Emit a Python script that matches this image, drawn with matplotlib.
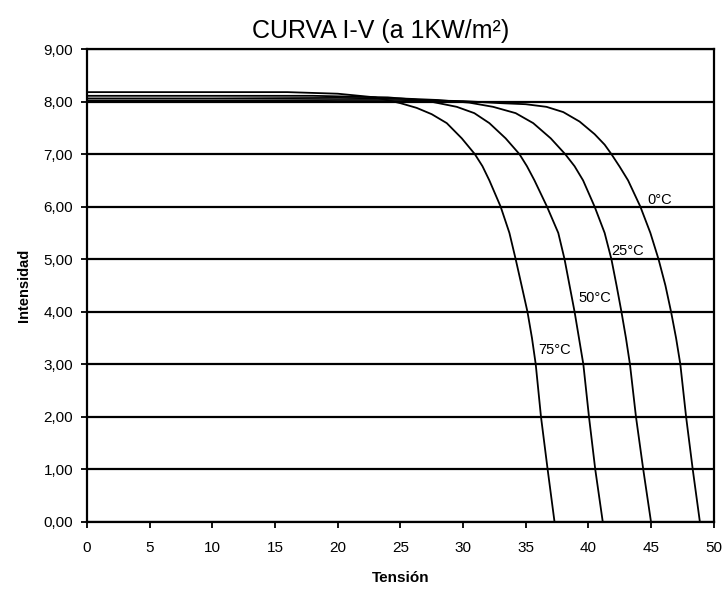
import matplotlib
matplotlib.use("Agg")
import matplotlib.pyplot as plt
from matplotlib.ticker import FuncFormatter

plt.rcParams['font.family'] = ['Liberation Sans', 'DejaVu Sans']

# curve points (tension V, intensidad A)
v_0 = [0, 10, 20, 25, 30, 33, 35.0, 36.66, 38.0, 39.3, 40.5, 41.3, 41.84, 42.5, 43.17, 44.15, 44.95, 45.6, 46.15, 46.6, 47.0, 47.34, 47.8, 48.33, 48.9]
i_0 = [8.02, 8.02, 8.03, 8.03, 8.01, 7.97, 7.95, 7.9, 7.8, 7.62, 7.38, 7.18, 7.0, 6.76, 6.5, 6.0, 5.5, 5.0, 4.5, 4.0, 3.5, 3.0, 2.0, 1.0, 0.0]

v_25 = [0, 10, 20, 25, 28, 30.5, 32.4, 34.2, 35.6, 37.0, 38.15, 38.9, 39.58, 40.5, 41.3, 41.84, 42.25, 42.64, 43.0, 43.32, 43.8, 44.38, 45.0]
i_25 = [8.06, 8.06, 8.07, 8.06, 8.03, 7.98, 7.9, 7.78, 7.59, 7.3, 7.0, 6.77, 6.5, 6.0, 5.5, 5.0, 4.5, 4.0, 3.5, 3.0, 2.0, 1.0, 0.0]

v_50 = [0, 10, 18, 24, 27, 29.5, 30.9, 32.1, 33.4, 34.5, 35.1, 35.7, 36.7, 37.6, 38.1, 38.5, 38.9, 39.25, 39.6, 40.05, 40.55, 41.15]
i_50 = [8.11, 8.11, 8.11, 8.08, 8.02, 7.9, 7.78, 7.59, 7.3, 7.0, 6.77, 6.5, 6.0, 5.5, 5.0, 4.5, 4.0, 3.5, 3.0, 2.0, 1.0, 0.0]

v_75 = [0, 10, 16, 20, 23, 25, 26.3, 27.5, 28.7, 29.9, 30.94, 31.55, 32.1, 33.0, 33.7, 34.2, 34.7, 35.14, 35.5, 35.8, 36.22, 36.75, 37.3]
i_75 = [8.18, 8.18, 8.18, 8.15, 8.08, 7.97, 7.88, 7.76, 7.59, 7.3, 7.0, 6.77, 6.5, 6.0, 5.5, 5.0, 4.47, 4.0, 3.5, 3.0, 2.0, 1.0, 0.0]

curvas = [("0°C", v_0, i_0, 44.7, 6.13),
          ("25°C", v_25, i_25, 41.85, 5.16),
          ("50°C", v_50, i_50, 39.2, 4.26),
          ("75°C", v_75, i_75, 36.0, 3.27)]

x_ticks = list(range(0, 51, 5))
y_ticks = list(range(0, 10))

fig = plt.figure(figsize=(7.26, 5.91), dpi=100)
ax = fig.add_axes([0.12, 0.117, 0.863, 0.8])

for y in y_ticks:
    ax.axhline(y, color='black', linewidth=1.6, zorder=1)

for nombre, v, i, tx, ty in curvas:
    ax.plot(v, i, color='black', linewidth=1.3, zorder=2, solid_joinstyle='round')
    ax.text(tx, ty, nombre, fontsize=10.5, va='center', ha='left', zorder=3)

ax.set_xlim(0, 50)
ax.set_ylim(0, 9)
ax.set_xticks(x_ticks)
ax.set_yticks(y_ticks)
ax.yaxis.set_major_formatter(FuncFormatter(lambda y, p: ('%.2f' % y).replace('.', ',')))
ax.tick_params(direction='out', length=4, width=1.3, labelsize=11)
ax.tick_params(axis='x', pad=10)
ax.tick_params(axis='y', pad=6)
for s in ax.spines.values():
    s.set_linewidth(1.6)

ax.set_xlabel('Tensión', fontsize=11, fontweight='bold', labelpad=11)
ax.set_ylabel('Intensidad', fontsize=10.5, fontweight='bold', labelpad=9)
ax.set_title('CURVA I-V (a 1KW/m²)', fontsize=18, pad=8, x=0.468)

fig.savefig('out.png', dpi=100)
